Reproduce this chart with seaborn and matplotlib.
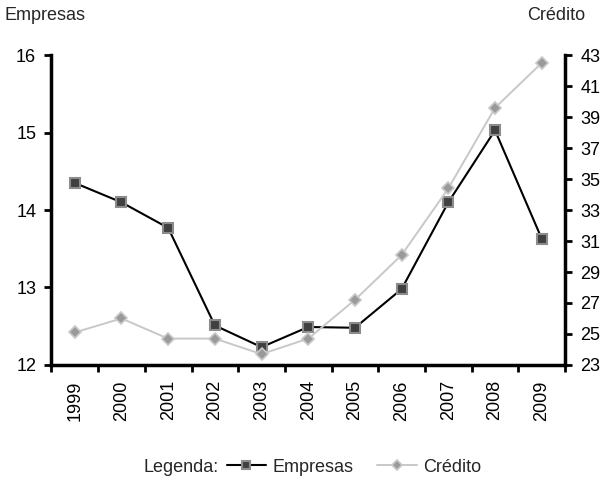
import numpy as np
import pandas as pd
import matplotlib
matplotlib.use("Agg")
import matplotlib.pyplot as plt
import seaborn as sns

# Series by year
years = ["1999", "2000", "2001", "2002", "2003", "2004",
         "2005", "2006", "2007", "2008", "2009"]
empresas = [14.35, 14.10, 13.77, 12.51, 12.23, 12.49, 12.48, 12.98, 14.10, 15.03, 13.63]
credito = [25.1, 26.0, 24.7, 24.7, 23.7, 24.7, 27.2, 30.1, 34.4, 39.6, 42.5]

sns.set_theme(style="ticks")
plt.rcParams['font.family'] = ['Liberation Sans', 'DejaVu Sans']

df = pd.DataFrame({
    "pos": np.arange(len(years)),
    "ano": years,
    "Empresas": empresas,
    "Crédito": credito,
})

FS = 13
fig = plt.figure(figsize=(6.05, 4.84), dpi=100)
ax = fig.add_axes([0.085, 0.246, 0.849, 0.64])
ax2 = ax.twinx()

sns.lineplot(data=df, x="pos", y="Empresas", ax=ax, color="black", lw=1.5,
             marker="s", markersize=7.5, markerfacecolor="#404040",
             markeredgecolor="#8c8c8c", markeredgewidth=1.5,
             label="Empresas", legend=False)
sns.lineplot(data=df, x="pos", y="Crédito", ax=ax2, color="#c8c8c8", lw=1.4,
             marker="D", markersize=6, markerfacecolor="#9a9a9a",
             markeredgecolor="#c8c8c8", markeredgewidth=1.2,
             label="Crédito", legend=False)

ax.set_xlabel("")
ax.set_ylabel("")
ax2.set_ylabel("")

ax.set_ylim(12, 16)
ax.set_yticks([12, 13, 14, 15, 16])
ax2.set_ylim(23, 43)
ax2.set_yticks(list(range(23, 44, 2)))

# Category boundaries carry the tick marks, centres carry the year labels
ax.set_xlim(-0.5, 10.5)
ax.set_xticks(np.arange(-0.5, 11, 1))
ax.set_xticklabels([])
ax.set_xticks(np.arange(len(years)), minor=True)
ax.set_xticklabels(years, minor=True, rotation=90)
ax.tick_params(axis="x", which="minor", length=0, pad=11, labelsize=FS, colors="black")
ax.tick_params(axis="x", which="major", length=5, width=2, color="black")
ax.tick_params(axis="y", length=5, width=2, pad=6, labelsize=FS, color="black", labelcolor="black")
ax2.tick_params(axis="y", length=5, width=2, pad=6, labelsize=FS, color="black", labelcolor="black")

for a in (ax, ax2):
    for s in a.spines.values():
        s.set_linewidth(2.5)
        s.set_color("black")
    a.grid(False)
ax.spines["top"].set_visible(False)
ax.spines["right"].set_visible(False)
ax2.spines["top"].set_visible(False)
ax2.spines["left"].set_visible(False)
ax2.spines["bottom"].set_visible(False)

fig.text(0.008, 0.969, "Empresas", ha="left", va="center", fontsize=FS)
fig.text(0.967, 0.969, "Crédito", ha="right", va="center", fontsize=FS)

handles = ax.get_lines()[:1] + ax2.get_lines()[:1]
fig.text(0.238, 0.035, "Legenda:", ha="left", va="center", fontsize=FS)
fig.legend(handles, ["Empresas", "Crédito"], loc="center",
           bbox_to_anchor=(0.585, 0.035), ncol=2, frameon=False,
           handlelength=2.2, columnspacing=1.3, handletextpad=0.35,
           markerscale=0.85, fontsize=FS)

fig.savefig("out.png", dpi=100)
